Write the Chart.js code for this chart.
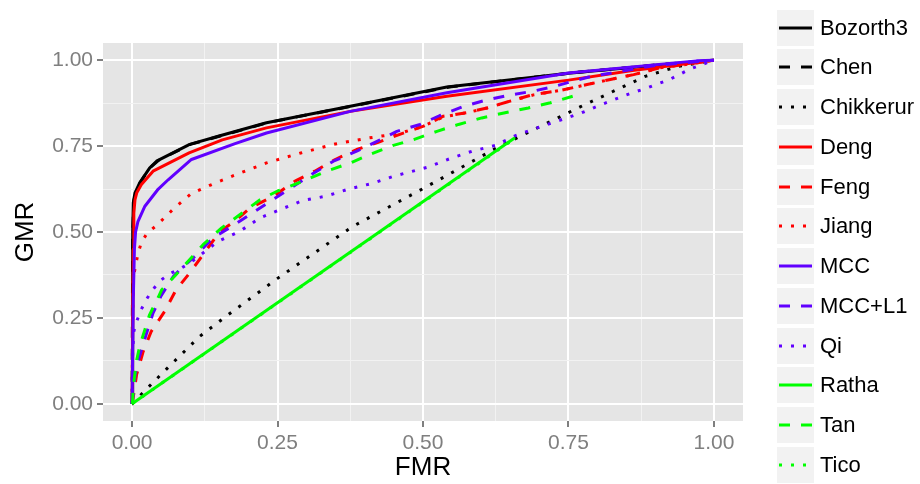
<!DOCTYPE html>
<html>
<head>
<meta charset="utf-8">
<script src="https://cdn.jsdelivr.net/npm/chart.js@4"></script>
<style>
  body { margin: 0; background: #fff; font-family: "Liberation Sans", Arial, sans-serif; }
  #wrap { position: relative; width: 920px; height: 484px; }
  #legend { position: absolute; left: 777px; top: 9.5px; }
  .item { position: absolute; left: 0; display: flex; align-items: center; height: 36px; }
  .key { width: 37px; height: 36px; background: #F2F2F2; }
  .label { margin-left: 6px; font-size: 22px; color: #000; white-space: nowrap; }
</style>
</head>
<body>
<div id="wrap">
  <canvas id="rocChart" width="920" height="484"></canvas>
  <div id="legend"></div>
</div>
<script>
// curves, [FMR, GMR] pairs
const bozorth3 = [[0,0],[0.001,0.5],[0.002,0.585],[0.005,0.614],[0.013,0.643],[0.03,0.686],[0.042,0.706],[0.099,0.755],[0.151,0.78],[0.231,0.818],[0.375,0.866],[0.541,0.922],[0.75,0.962],[0.9,0.985],[1,1]];
const chen = [[0,0],[0.001,0.49],[0.003,0.59],[0.006,0.615],[0.014,0.644],[0.03,0.686],[0.045,0.708],[0.1,0.755],[0.155,0.781],[0.235,0.819],[0.38,0.867],[0.545,0.922],[0.75,0.962],[0.9,0.986],[1,1]];
const chikkerur = [[0,0],[0.016,0.028],[0.059,0.101],[0.116,0.196],[0.165,0.259],[0.25,0.365],[0.378,0.515],[0.504,0.63],[0.627,0.745],[0.77,0.864],[0.882,0.953],[0.939,0.982],[1,1]];
const deng = [[0,0],[0.002,0.45],[0.003,0.555],[0.005,0.594],[0.008,0.614],[0.016,0.638],[0.036,0.677],[0.098,0.73],[0.155,0.768],[0.231,0.803],[0.375,0.851],[0.541,0.895],[0.75,0.942],[0.86,0.97],[1,1]];
const feng = [[0,0],[0.004,0.04],[0.0076,0.084],[0.019,0.152],[0.033,0.211],[0.056,0.269],[0.075,0.33],[0.099,0.381],[0.122,0.434],[0.151,0.502],[0.174,0.528],[0.203,0.57],[0.243,0.604],[0.28,0.648],[0.314,0.677],[0.349,0.711],[0.386,0.74],[0.423,0.761],[0.46,0.784],[0.501,0.808],[0.535,0.837],[0.575,0.847],[0.61,0.861],[0.65,0.881],[0.69,0.9],[0.736,0.912],[0.782,0.929],[0.822,0.944],[0.862,0.958],[0.908,0.978],[0.954,0.988],[1,1]];
const jiang = [[0,0],[0.001,0.25],[0.002,0.366],[0.006,0.402],[0.01,0.436],[0.016,0.47],[0.026,0.497],[0.042,0.519],[0.071,0.567],[0.101,0.611],[0.138,0.639],[0.174,0.664],[0.231,0.701],[0.29,0.73],[0.349,0.756],[0.408,0.774],[0.46,0.787],[0.501,0.808],[0.535,0.835],[0.575,0.847],[0.61,0.861],[0.65,0.881],[0.69,0.899],[0.736,0.912],[0.782,0.929],[0.822,0.944],[0.862,0.958],[0.908,0.978],[0.954,0.988],[1,1]];
const mcc = [[0,0],[0.002,0.3],[0.004,0.45],[0.006,0.5],[0.01,0.53],[0.022,0.575],[0.045,0.625],[0.062,0.652],[0.102,0.711],[0.177,0.757],[0.231,0.788],[0.375,0.851],[0.541,0.905],[0.75,0.963],[0.97,0.998],[1,1]];
const mccL1 = [[0,0],[0.002,0.03],[0.005,0.08],[0.01,0.123],[0.025,0.206],[0.036,0.264],[0.05,0.315],[0.071,0.371],[0.085,0.395],[0.111,0.434],[0.139,0.483],[0.171,0.516],[0.237,0.589],[0.311,0.67],[0.346,0.706],[0.386,0.735],[0.421,0.764],[0.455,0.793],[0.495,0.813],[0.529,0.839],[0.57,0.866],[0.607,0.883],[0.647,0.898],[0.69,0.91],[0.727,0.924],[0.76,0.94],[0.79,0.953],[0.9,0.985],[1,1]];
const qi = [[0,0],[0.001,0.15],[0.003,0.211],[0.008,0.24],[0.015,0.272],[0.025,0.305],[0.036,0.333],[0.048,0.358],[0.065,0.379],[0.085,0.395],[0.105,0.417],[0.148,0.473],[0.185,0.502],[0.22,0.541],[0.257,0.567],[0.294,0.592],[0.333,0.604],[0.372,0.625],[0.412,0.641],[0.449,0.662],[0.509,0.689],[0.547,0.714],[0.584,0.735],[0.624,0.752],[0.66,0.781],[0.696,0.803],[0.735,0.825],[0.773,0.847],[0.81,0.873],[0.848,0.898],[0.886,0.92],[0.924,0.944],[0.96,0.975],[1,1]];
const ratha = [[0,0],[0.658,0.774]];
const tan = [[0,0],[0.001,0.012],[0.002,0.05],[0.008,0.128],[0.013,0.167],[0.022,0.216],[0.03,0.259],[0.045,0.31],[0.051,0.332],[0.073,0.371],[0.096,0.414],[0.122,0.463],[0.154,0.512],[0.185,0.55],[0.22,0.594],[0.251,0.62],[0.294,0.648],[0.334,0.677],[0.375,0.701],[0.412,0.728],[0.449,0.752],[0.484,0.769],[0.524,0.793],[0.561,0.813],[0.601,0.832],[0.641,0.847],[0.681,0.861],[0.719,0.876],[0.767,0.9]];
const tico = [[0,0],[0.66,0.775]];

const seriesNames = ["Bozorth3", "Chen", "Chikkerur", "Deng", "Feng", "Jiang", "MCC", "MCC+L1", "Qi", "Ratha", "Tan", "Tico"];
const seriesValues = [bozorth3, chen, chikkerur, deng, feng, jiang, mcc, mccL1, qi, ratha, tan, tico];

const axisTicks = [0, 0.25, 0.5, 0.75, 1];
const minorTicks = [0.125, 0.375, 0.625, 0.875];

// ggplot-ish look: colour per group of 3, linetype cycles solid/dashed/dotted
const colours = ["#000000", "#FF0000", "#6100FF", "#00FF00"];
const dashes = [[], [11, 11], [3, 9]];

const isMajor = (v) => axisTicks.some((t) => Math.abs(t - v) < 1e-9);

const panelBackground = {
  id: "panelBackground",
  beforeDraw(chart) {
    const { ctx, chartArea: a } = chart;
    ctx.save();
    ctx.fillStyle = "#E5E5E5";
    ctx.fillRect(a.left, a.top, a.right - a.left, a.bottom - a.top);
    ctx.restore();
  },
};

const datasets = seriesValues.map((values, i) => ({
  label: seriesNames[i],
  data: values.map((p) => ({ x: p[0], y: p[1] })),
  borderColor: colours[Math.floor(i / 3)],
  borderDash: dashes[i % 3],
  borderWidth: 3,
  borderCapStyle: "butt",
  borderJoinStyle: "round",
  pointRadius: 0,
  tension: 0,
  fill: false,
  order: -i, // later groups on top, like ggplot
}));

function axis(title, size) {
  return {
    type: "linear",
    min: -0.05,
    max: 1.05,
    afterBuildTicks(scale) {
      scale.ticks = axisTicks.concat(minorTicks).sort((a, b) => a - b).map((v) => ({ value: v }));
    },
    afterFit(scale) {
      if (scale.isHorizontal()) scale.height = size;
      else scale.width = size;
    },
    ticks: {
      autoSkip: false,
      maxRotation: 0,
      padding: 4,
      color: "#7F7F7F",
      font: { family: "'Liberation Sans', Arial, sans-serif", size: 21 },
      callback: (v) => (isMajor(v) ? v.toFixed(2) : ""),
    },
    grid: {
      color: (c) => (isMajor(c.tick.value) ? "#FFFFFF" : "#F2F2F2"),
      lineWidth: (c) => (isMajor(c.tick.value) ? 2 : 1),
      tickColor: (c) => (isMajor(c.tick.value) ? "#7F7F7F" : "rgba(0,0,0,0)"),
      tickLength: 6,
    },
    border: { display: false },
    title: {
      display: true,
      text: title,
      color: "#000",
      font: { family: "'Liberation Sans', Arial, sans-serif", size: 26 },
      padding: title === "GMR" ? { top: 10, bottom: 0 } : { top: 0, bottom: 1 },
    },
  };
}

new Chart(document.getElementById("rocChart"), {
  type: "line",
  data: { datasets: datasets },
  options: {
    responsive: false,
    animation: false,
    devicePixelRatio: 1,
    layout: { padding: { top: 43, right: 177, left: 0, bottom: 0 } },
    plugins: { legend: { display: false }, tooltip: { enabled: false } },
    scales: {
      x: axis("FMR", 63),
      y: axis("GMR", 103),
    },
  },
  plugins: [panelBackground],
});

// legend: grey key boxes like ggplot
const legend = document.getElementById("legend");
seriesNames.forEach((name, i) => {
  const item = document.createElement("div");
  item.className = "item";
  item.style.top = (i * 39.77) + "px";
  const dash = dashes[i % 3].join(" ");
  item.innerHTML =
    '<div class="key"><svg width="37" height="36">' +
    '<line x1="2" y1="18" x2="35" y2="18" stroke="' + colours[Math.floor(i / 3)] +
    '" stroke-width="3"' + (dash ? ' stroke-dasharray="' + dash + '"' : "") + "/></svg></div>" +
    '<span class="label">' + name + "</span>";
  legend.appendChild(item);
});
</script>
</body>
</html>
